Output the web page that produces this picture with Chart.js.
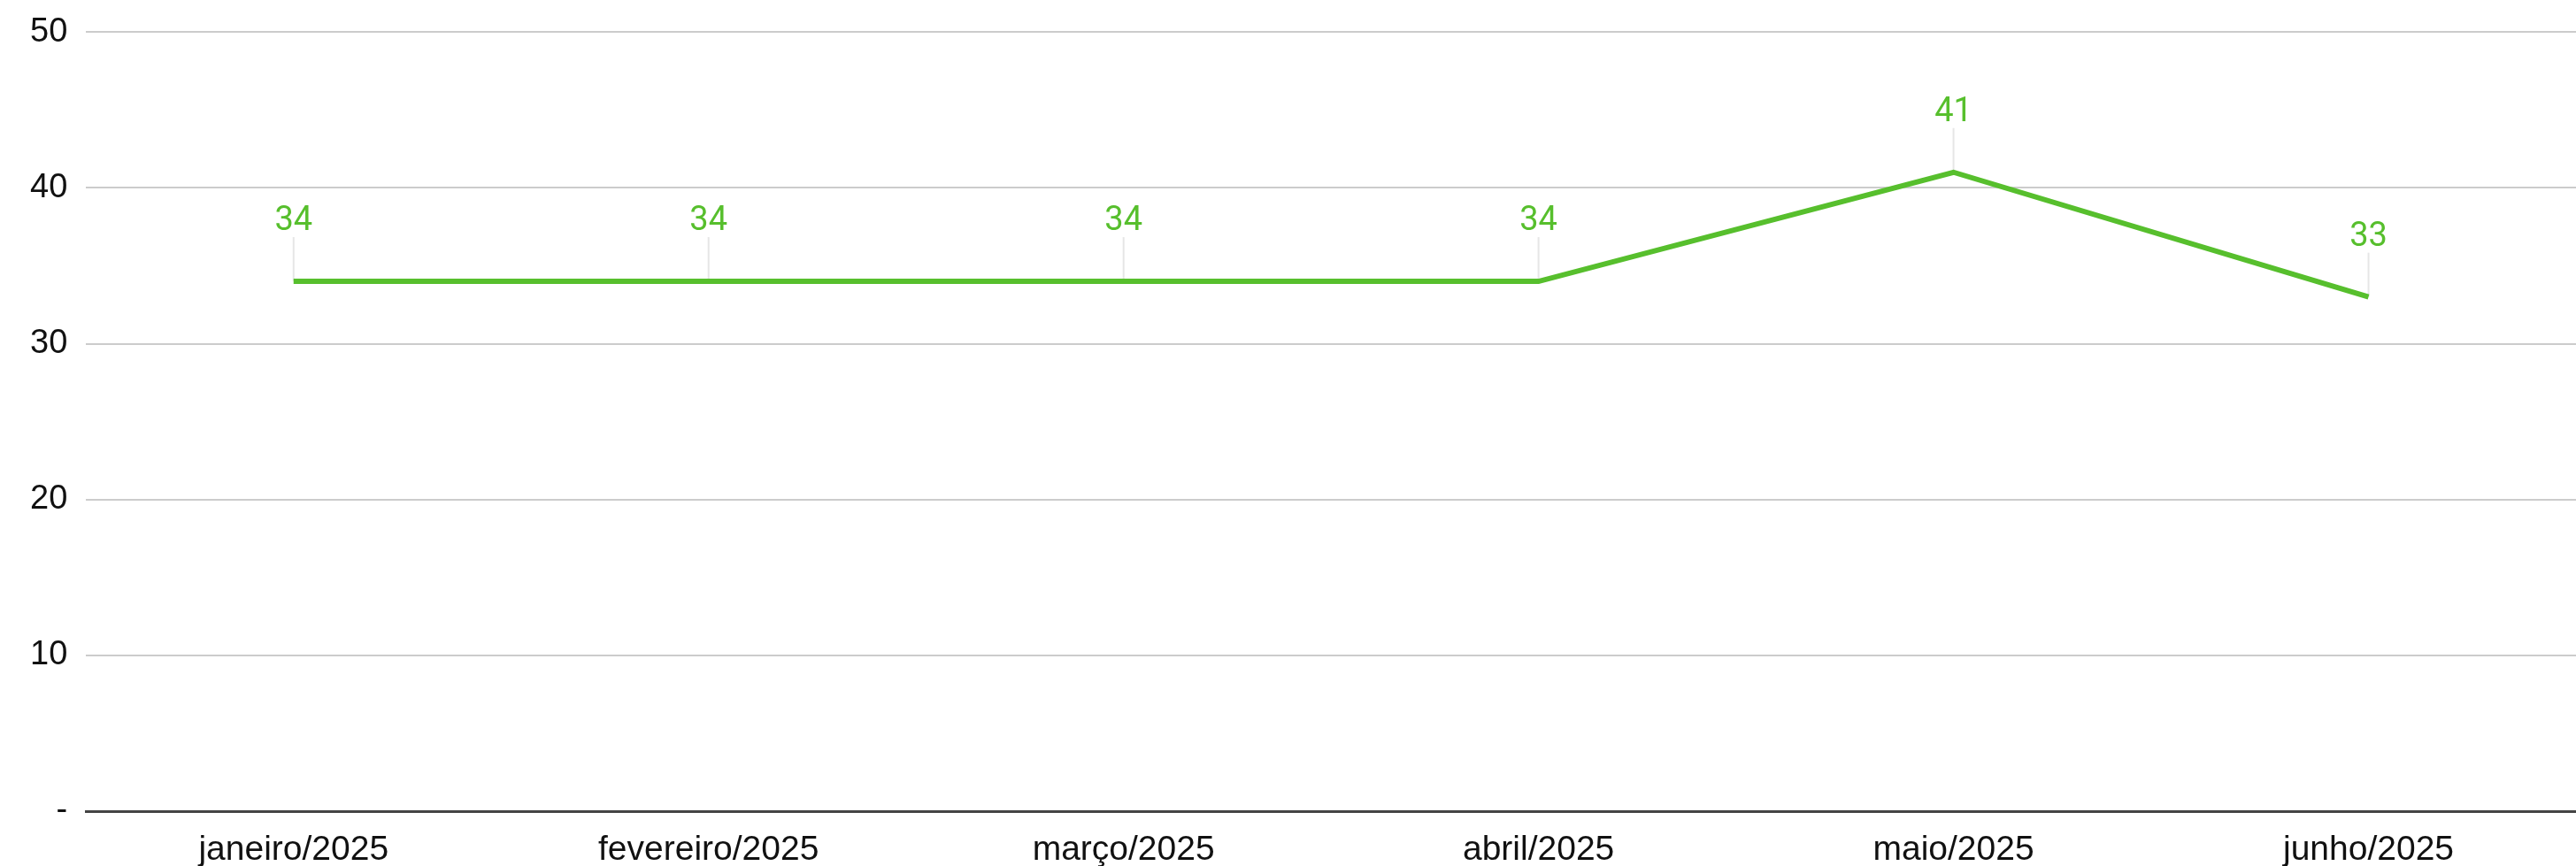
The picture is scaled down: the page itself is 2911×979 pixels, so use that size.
<!DOCTYPE html>
<html lang="pt">
<head>
  <meta charset="UTF-8">
  <title>Evolução mensal</title>
  <script src="https://cdn.jsdelivr.net/npm/chart.js"></script>
  <style>
    html, body {
      margin: 0;
      padding: 0;
      background: #ffffff;
    }
    .wrap {
      width: 2911px;
      height: 979px;
    }
  </style>
</head>
<body>
  <div class="wrap">
    <canvas id="lineChart"></canvas>
  </div>

  <script>
    const months = ['janeiro/2025', 'fevereiro/2025', 'março/2025', 'abril/2025', 'maio/2025', 'junho/2025'];
    const values = [34, 34, 34, 34, 41, 33];
    const yTicks = [0, 10, 20, 30, 40, 50];

    const lineColor = '#57bf2d';

    // value labels with a thin leader line above each point
    const leaderLabels = {
      id: 'leaderLabels',
      beforeDatasetsDraw(chart) {
        const ctx = chart.ctx;
        const meta = chart.getDatasetMeta(0);
        ctx.save();
        ctx.strokeStyle = '#e6e6e6';
        ctx.lineWidth = 2;
        meta.data.forEach(pt => {
          ctx.beginPath();
          ctx.moveTo(pt.x, pt.y);
          ctx.lineTo(pt.x, pt.y - 50);
          ctx.stroke();
        });
        ctx.restore();
      },
      afterDatasetsDraw(chart) {
        const ctx = chart.ctx;
        const meta = chart.getDatasetMeta(0);
        ctx.save();
        ctx.fillStyle = lineColor;
        ctx.font = '38px Roboto';
        ctx.textAlign = 'center';
        ctx.textBaseline = 'alphabetic';
        meta.data.forEach((pt, i) => {
          ctx.fillText(String(values[i]), pt.x, pt.y - 58);
        });
        ctx.restore();
      }
    };

    new Chart(document.getElementById('lineChart'), {
      type: 'line',
      data: {
        labels: months,
        datasets: [{
          data: values,
          borderColor: lineColor,
          backgroundColor: 'transparent',
          borderWidth: 6,
          tension: 0,
          pointRadius: 0,
          pointHoverRadius: 0
        }]
      },
      options: {
        responsive: true,
        maintainAspectRatio: false,
        animation: false,
        layout: {
          padding: { top: 6, right: 0, bottom: -27, left: 13 }
        },
        plugins: {
          legend: { display: false },
          tooltip: { enabled: false }
        },
        scales: {
          x: {
            offset: true,
            grid: { display: false, drawTicks: false },
            border: { display: true, color: '#444444', width: 3 },
            ticks: {
              color: '#111111',
              font: { family: 'Liberation Sans', size: 39, lineHeight: 1 },
              padding: 25,
              maxRotation: 0
            }
          },
          y: {
            min: yTicks[0],
            max: yTicks[yTicks.length - 1],
            afterBuildTicks(scale) {
              scale.ticks = yTicks.map(v => ({ value: v }));
            },
            grid: {
              color: '#cccccc',
              lineWidth: 2,
              drawTicks: false
            },
            border: { display: false },
            ticks: {
              color: '#111111',
              font: { family: 'Liberation Sans', size: 38, lineHeight: 0.8 },
              padding: 21,
              callback: v => v === 0 ? '-' : v
            }
          }
        }
      },
      plugins: [leaderLabels]
    });
  </script>
</body>
</html>
